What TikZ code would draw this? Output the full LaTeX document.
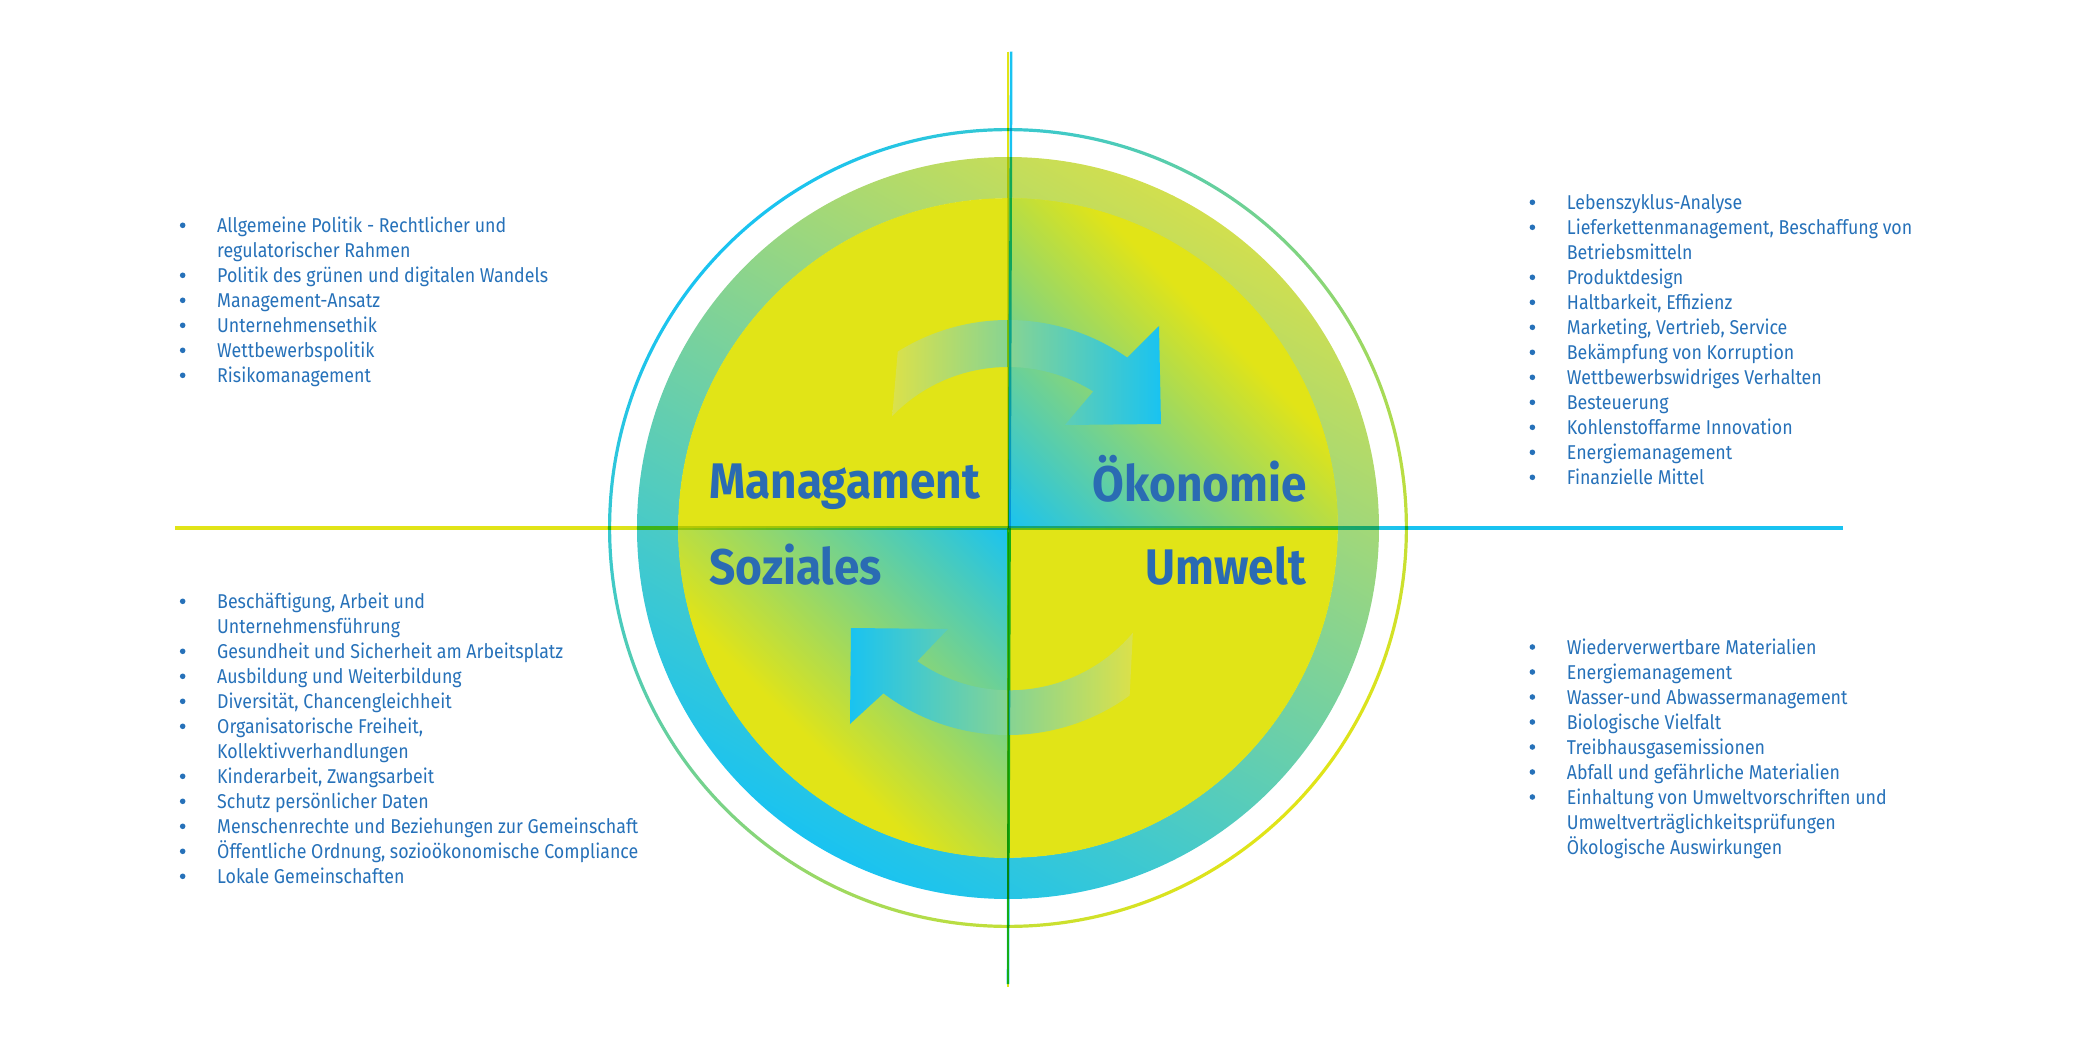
\documentclass[tikz,border=0pt]{standalone}
\usepackage{fontspec}
\setmainfont{Fira Sans}
\newfontfamily\listfont{Fira Sans}[FakeStretch=0.89]
\newfontfamily\headfont{Fira Sans}[FakeStretch=0.92]
\definecolor{cyn}{HTML}{19C3F1}
\definecolor{yel}{HTML}{E1E417}
\definecolor{ygreen}{HTML}{D2DF4E}
\definecolor{midteal}{HTML}{7ECBB2}
\definecolor{arrowyel}{HTML}{DBE14A}
\definecolor{txt}{HTML}{2671B9}
\definecolor{headblue}{HTML}{2A6BB3}
\tikzset{
  lst/.style={anchor=base west, inner sep=0pt, text=txt, font=\listfont\fontsize{20}{25}\selectfont},
  headtxt/.style={inner sep=0pt, text=headblue, font=\headfont\bfseries\fontsize{50}{55}\selectfont},
}
\newcommand\itm[4]{\fill[txt] (#2-34.3,#3+7) circle (2.8); \node[lst] (#1) at (#2,#3) {#4};}
\newcommand\cnt[4]{\node[lst] (#1) at (#2,#3) {#4};}
\begin{document}
\begin{tikzpicture}[x=1pt,y=1pt]
\useasboundingbox (-1008,-530) rectangle (1077,528);
% thin outer circle
\begin{scope}[even odd rule]
  \clip (0,0) circle (400) (0,0) circle (396.8);
  \begin{scope}[transform canvas={rotate=-45}]
    \shade[left color=cyn, middle color=midteal, right color=yel] (-401,-401) rectangle (401,401);
  \end{scope}
\end{scope}
% thick ring
\begin{scope}[even odd rule]
  \clip (0,0) circle (371) (0,0) circle (329.5);
  \begin{scope}[transform canvas={rotate=60}]
    \shade[left color=cyn, middle color=midteal, right color=ygreen] (-372,-372) rectangle (372,372);
  \end{scope}
\end{scope}
% inner disk
\fill[yel] (0,0) circle (329.8);
% top-right quadrant gradient
\begin{scope}
  \clip (0,0) -- (329.8,0) arc[start angle=0,end angle=90,radius=329.8] -- cycle;
  \begin{scope}[transform canvas={rotate=45}]
    \shade[left color=cyn, right color=yel] (0,-400) rectangle (290,400);
    \fill[yel] (290,-400) rectangle (420,400);
  \end{scope}
\end{scope}
% bottom-left quadrant gradient
\begin{scope}
  \clip (0,0) -- (-329.8,0) arc[start angle=180,end angle=270,radius=329.8] -- cycle;
  \begin{scope}[transform canvas={rotate=225}]
    \shade[left color=cyn, right color=yel] (0,-400) rectangle (290,400);
    \fill[yel] (290,-400) rectangle (420,400);
  \end{scope}
\end{scope}
% top arrow
\shade[left color=arrowyel, right color=cyn]
  (122:208) arc[start angle=122,end angle=55,radius=208]
  -- (151,202) -- (153,104) -- (57,103) -- (58:161)
  arc[start angle=58,end angle=136,radius=161] -- cycle;
% bottom arrow
\shade[left color=cyn, right color=arrowyel]
  (-60,-101) -- (-157,-100) -- (-158,-196) -- (233:207)
  arc[start angle=233,end angle=306,radius=207]
  -- (320:163) arc[start angle=320,end angle=235,radius=161] -- cycle;
% axes
\begin{scope}[blend mode=multiply]
  \fill[yel] (-833,-1.8) rectangle (-400,1.8);
  \shade[left color=yel, right color=cyn] (-400,-1.8) rectangle (400,1.8);
  \fill[cyn] (400,-1.8) rectangle (835,1.8);
  \draw[yel, line width=2.6pt] (0,476.3) -- (0,-458.7);
  \draw[cyn, line width=2.6pt] (3.2,476.3) -- (0,-456);
\end{scope}
% headings
\node[headtxt, anchor=base west] (mgmt) at (-299,30) {Managament};
\node[headtxt, anchor=base east] (oeko) at (299,26.5) {Ökonomie};
\node[headtxt, anchor=base west] (soz) at (-299,-56) {Soziales};
\node[headtxt, anchor=base east] (umw) at (298,-56) {Umwelt};
% top-left list
\itm{tl1}{-791}{295.7}{Allgemeine Politik - Rechtlicher und}
\cnt{tl2}{-791}{270.7}{regulatorischer Rahmen}
\itm{tl3}{-791}{245.7}{Politik des grünen und digitalen Wandels}
\itm{tl4}{-791}{220.7}{Management-Ansatz}
\itm{tl5}{-791}{195.7}{Unternehmensethik}
\itm{tl6}{-791}{170.7}{Wettbewerbspolitik}
\itm{tl7}{-791}{145.7}{Risikomanagement}
% top-right list
\itm{tr1}{558.7}{318.7}{Lebenszyklus-Analyse}
\itm{tr2}{558.7}{293.7}{Lieferkettenmanagement, Beschaffung von}
\cnt{tr3}{558.7}{268.7}{Betriebsmitteln}
\itm{tr4}{558.7}{243.7}{Produktdesign}
\itm{tr5}{558.7}{218.7}{Haltbarkeit, Effizienz}
\itm{tr6}{558.7}{193.7}{Marketing, Vertrieb, Service}
\itm{tr7}{558.7}{168.7}{Bekämpfung von Korruption}
\itm{tr8}{558.7}{143.7}{Wettbewerbswidriges Verhalten}
\itm{tr9}{558.7}{118.7}{Besteuerung}
\itm{tr10}{558.7}{93.7}{Kohlenstoffarme Innovation}
\itm{tr11}{558.7}{68.7}{Energiemanagement}
\itm{tr12}{558.7}{43.7}{Finanzielle Mittel}
% bottom-left list
\itm{bl1}{-791}{-80.3}{Beschäftigung, Arbeit und}
\cnt{bl2}{-791}{-105.3}{Unternehmensführung}
\itm{bl3}{-791}{-130.3}{Gesundheit und Sicherheit am Arbeitsplatz}
\itm{bl4}{-791}{-155.3}{Ausbildung und Weiterbildung}
\itm{bl5}{-791}{-180.3}{Diversität, Chancengleichheit}
\itm{bl6}{-791}{-205.3}{Organisatorische Freiheit,}
\cnt{bl7}{-791}{-230.3}{Kollektivverhandlungen}
\itm{bl8}{-791}{-255.3}{Kinderarbeit, Zwangsarbeit}
\itm{bl9}{-791}{-280.3}{Schutz persönlicher Daten}
\itm{bl10}{-791}{-305.3}{Menschenrechte und Beziehungen zur Gemeinschaft}
\itm{bl11}{-791}{-330.3}{Öffentliche Ordnung, sozioökonomische Compliance}
\itm{bl12}{-791}{-355.3}{Lokale Gemeinschaften}
% bottom-right list
\itm{br1}{558.7}{-126}{Wiederverwertbare Materialien}
\itm{br2}{558.7}{-151}{Energiemanagement}
\itm{br3}{558.7}{-176}{Wasser-und Abwassermanagement}
\itm{br4}{558.7}{-201}{Biologische Vielfalt}
\itm{br5}{558.7}{-226}{Treibhausgasemissionen}
\itm{br6}{558.7}{-251}{Abfall und gefährliche Materialien}
\itm{br7}{558.7}{-276}{Einhaltung von Umweltvorschriften und}
\cnt{br8}{558.7}{-301}{Umweltverträglichkeitsprüfungen}
\cnt{br9}{558.7}{-326}{Ökologische Auswirkungen}
\end{tikzpicture}
\end{document}
